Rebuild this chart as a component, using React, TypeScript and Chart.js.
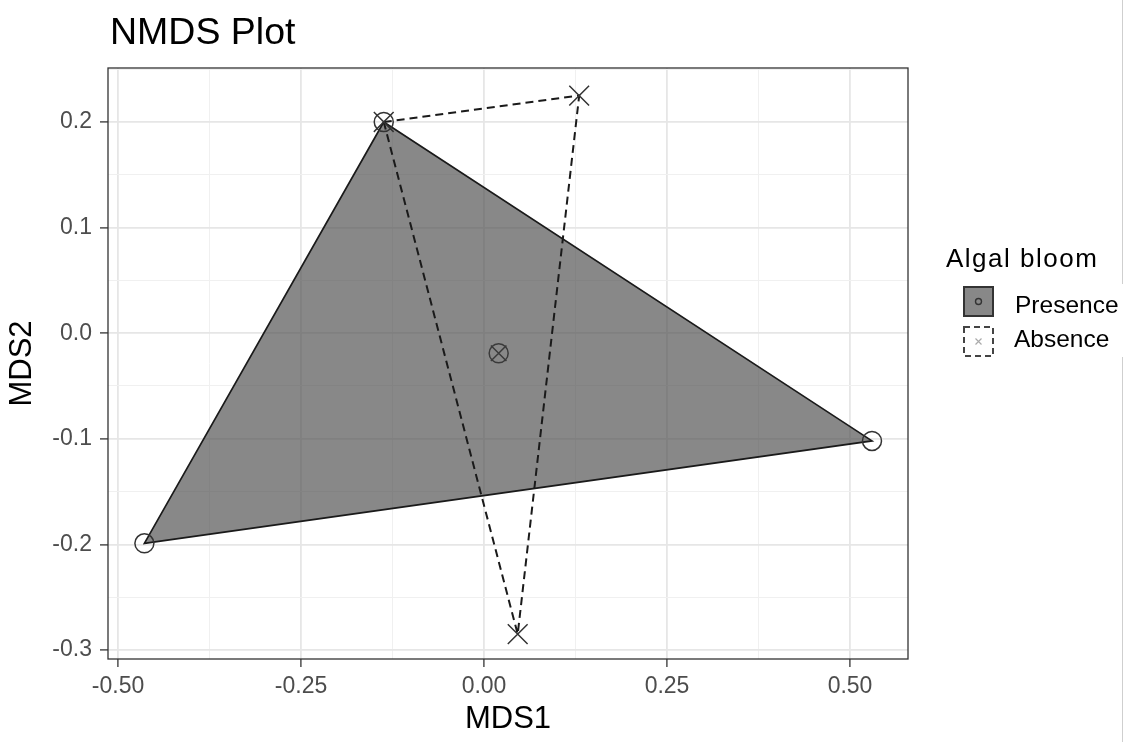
import React, { useEffect, useRef } from 'react';
import { Chart, registerables } from 'chart.js';

Chart.register(...registerables);

// ---- data ----
const presenceX = [-0.137, 0.530, -0.464];
const presenceY = [0.200, -0.102, -0.199];
const absenceX = [-0.137, 0.130, 0.046];
const absenceY = [0.200, 0.225, -0.285];
const centroidX = [0.020];
const centroidY = [-0.019];

const xTickValues = [-0.5, -0.375, -0.25, -0.125, 0, 0.125, 0.25, 0.375, 0.5];
const xTickLabels = ['-0.50', '', '-0.25', '', '0.00', '', '0.25', '', '0.50'];
const yTickValues = [-0.3, -0.25, -0.2, -0.15, -0.1, -0.05, 0, 0.05, 0.1, 0.15, 0.2, 0.25];
const yTickLabels = ['-0.3', '', '-0.2', '', '-0.1', '', '0.0', '', '0.1', '', '0.2', ''];

const chartTitle = 'NMDS Plot';
const xTitle = 'MDS1';
const yTitle = 'MDS2';
const legendTitle = 'Algal bloom';
const groupNames = ['Presence', 'Absence'];

const FONT = "'Liberation Sans', Arial, Helvetica, sans-serif";
const FILL = 'rgba(75,75,75,0.66)';

const toPts = (xs: number[], ys: number[]) => xs.map((x, i) => ({ x, y: ys[i] }));
const closed = (xs: number[], ys: number[]) => {
  const p = toPts(xs, ys);
  return [...p, p[0]];
};

const decorPlugin = {
  id: 'decor',
  afterDraw(chart: any) {
    const { ctx, chartArea: a } = chart;
    ctx.save();
    // panel border
    ctx.strokeStyle = '#333333';
    ctx.lineWidth = 1.3;
    ctx.strokeRect(a.left, a.top, a.right - a.left, a.bottom - a.top);

    // title
    ctx.fillStyle = '#000000';
    ctx.textAlign = 'left';
    ctx.textBaseline = 'alphabetic';
    ctx.font = `37.5px ${FONT}`;
    ctx.fillText(chartTitle, a.left + 2, 44);

    // legend title
    ctx.font = `26px ${FONT}`;
    try { (ctx as any).letterSpacing = '1.5px'; } catch (e) {}
    ctx.fillText(legendTitle, 946, 267);
    try { (ctx as any).letterSpacing = '0px'; } catch (e) {}

    // presence key
    ctx.fillStyle = FILL;
    ctx.fillRect(964, 287, 29, 29);
    ctx.strokeStyle = '#333333';
    ctx.lineWidth = 2;
    ctx.strokeRect(964, 287, 29, 29);
    ctx.beginPath();
    ctx.lineWidth = 1.4;
    ctx.arc(978.5, 301.5, 3, 0, Math.PI * 2);
    ctx.stroke();

    // absence key
    ctx.setLineDash([6, 4]);
    ctx.strokeStyle = '#444444';
    ctx.lineWidth = 2;
    ctx.strokeRect(964, 327, 29, 29);
    ctx.setLineDash([]);
    ctx.strokeStyle = '#aaaaaa';
    ctx.lineWidth = 1.2;
    ctx.beginPath();
    ctx.moveTo(975.5, 338.5); ctx.lineTo(981.5, 344.5);
    ctx.moveTo(981.5, 338.5); ctx.lineTo(975.5, 344.5);
    ctx.stroke();

    // legend labels
    ctx.fillStyle = '#000000';
    ctx.font = `24.5px ${FONT}`;
    ctx.fillText(groupNames[0], 1015, 312.5);
    ctx.fillText(groupNames[1], 1014, 346.5);

    // faint right edge line
    ctx.strokeStyle = '#cfcfcf';
    ctx.lineWidth = 1;
    ctx.beginPath();
    ctx.moveTo(1122.5, 0); ctx.lineTo(1122.5, 284);
    ctx.moveTo(1122.5, 357); ctx.lineTo(1122.5, 742);
    ctx.stroke();
    ctx.restore();
  },
};

export default function App() {
  const ref = useRef<HTMLCanvasElement | null>(null);

  useEffect(() => {
    if (!ref.current) return;
    const chart = new Chart(ref.current, {
      type: 'line',
      data: {
        datasets: [
          {
            label: 'Presence hull',
            data: closed(presenceX, presenceY),
            borderColor: '#1a1a1a',
            borderWidth: 1.7,
            backgroundColor: FILL,
            fill: 'shape',
            pointRadius: 0,
            tension: 0,
            order: 5,
          },
          {
            label: 'Absence hull',
            data: closed(absenceX, absenceY),
            borderColor: '#1a1a1a',
            borderWidth: 2,
            borderDash: [8, 5],
            backgroundColor: 'rgba(0,0,0,0)',
            fill: false,
            pointRadius: 0,
            tension: 0,
            order: 4,
          },
          {
            label: 'Presence',
            data: toPts(presenceX, presenceY),
            showLine: false,
            pointStyle: 'circle',
            pointRadius: 9.5,
            pointBorderWidth: 1.5,
            pointBorderColor: '#333333',
            pointBackgroundColor: 'rgba(0,0,0,0)',
            order: 3,
          },
          {
            label: 'Absence',
            data: toPts(absenceX, absenceY),
            showLine: false,
            pointStyle: 'crossRot',
            pointRadius: 14,
            pointBorderWidth: 1.5,
            pointBorderColor: '#333333',
            pointBackgroundColor: 'rgba(0,0,0,0)',
            order: 2,
          },
          {
            label: 'Centroid circle',
            data: toPts(centroidX, centroidY),
            showLine: false,
            pointStyle: 'circle',
            pointRadius: 9.5,
            pointBorderWidth: 1.5,
            pointBorderColor: '#3a3a3a',
            pointBackgroundColor: 'rgba(0,0,0,0)',
            order: 1,
          },
          {
            label: 'Centroid cross',
            data: toPts(centroidX, centroidY),
            showLine: false,
            pointStyle: 'crossRot',
            pointRadius: 11,
            pointBorderWidth: 1.5,
            pointBorderColor: '#3a3a3a',
            pointBackgroundColor: 'rgba(0,0,0,0)',
            order: 0,
          },
        ],
      },
      options: {
        responsive: false,
        animation: false,
        events: [],
        layout: { padding: { left: 0, top: 68, right: 218, bottom: 0 } },
        plugins: {
          legend: { display: false },
          title: { display: false },
          tooltip: { enabled: false },
        },
        scales: {
          x: {
            type: 'linear',
            min: -0.5137,
            max: 0.5792,
            afterBuildTicks: (scale: any) => {
              scale.ticks = xTickValues.map((v) => ({ value: v }));
            },
            afterFit: (scale: any) => {
              scale.height = 83;
            },
            border: { display: false },
            grid: {
              color: (c: any) => (xTickLabels[c.index] ? '#e6e6e6' : '#f0f0f0'),
              lineWidth: (c: any) => (xTickLabels[c.index] ? 1.8 : 1),
              tickColor: (c: any) => (xTickLabels[c.index] ? '#333333' : 'rgba(0,0,0,0)'),
              tickWidth: 1.3,
              tickLength: 8,
              drawTicks: true,
            },
            ticks: {
              autoSkip: false,
              maxRotation: 0,
              padding: 6,
              color: '#4d4d4d',
              font: { family: FONT, size: 23 },
              callback: (_v: any, i: number) => xTickLabels[i],
            },
            title: {
              display: true,
              text: xTitle,
              color: '#000000',
              font: { family: FONT, size: 31 },
              padding: { top: 0, bottom: 4 },
            },
          },
          y: {
            type: 'linear',
            min: -0.3085,
            max: 0.2511,
            afterBuildTicks: (scale: any) => {
              scale.ticks = yTickValues.map((v) => ({ value: v }));
            },
            afterFit: (scale: any) => {
              scale.width = 108;
            },
            border: { display: false },
            grid: {
              color: (c: any) => (yTickLabels[c.index] ? '#e6e6e6' : '#f0f0f0'),
              lineWidth: (c: any) => (yTickLabels[c.index] ? 1.8 : 1),
              tickColor: (c: any) => (yTickLabels[c.index] ? '#333333' : 'rgba(0,0,0,0)'),
              tickWidth: 1.3,
              tickLength: 8,
              drawTicks: true,
            },
            ticks: {
              autoSkip: false,
              padding: 8,
              color: '#4d4d4d',
              font: { family: FONT, size: 23 },
              callback: (_v: any, i: number) => yTickLabels[i],
            },
            title: {
              display: true,
              text: yTitle,
              color: '#000000',
              font: { family: FONT, size: 31 },
              padding: { top: 4, bottom: 0 },
            },
          },
        },
      } as any,
      plugins: [decorPlugin],
    });
    return () => chart.destroy();
  }, []);

  return (
    <div style={{ position: 'absolute', left: 0, top: 0, width: 1126, height: 742, background: '#ffffff' }}>
      <canvas ref={ref} width={1126} height={742} style={{ display: 'block' }} />
    </div>
  );
}
